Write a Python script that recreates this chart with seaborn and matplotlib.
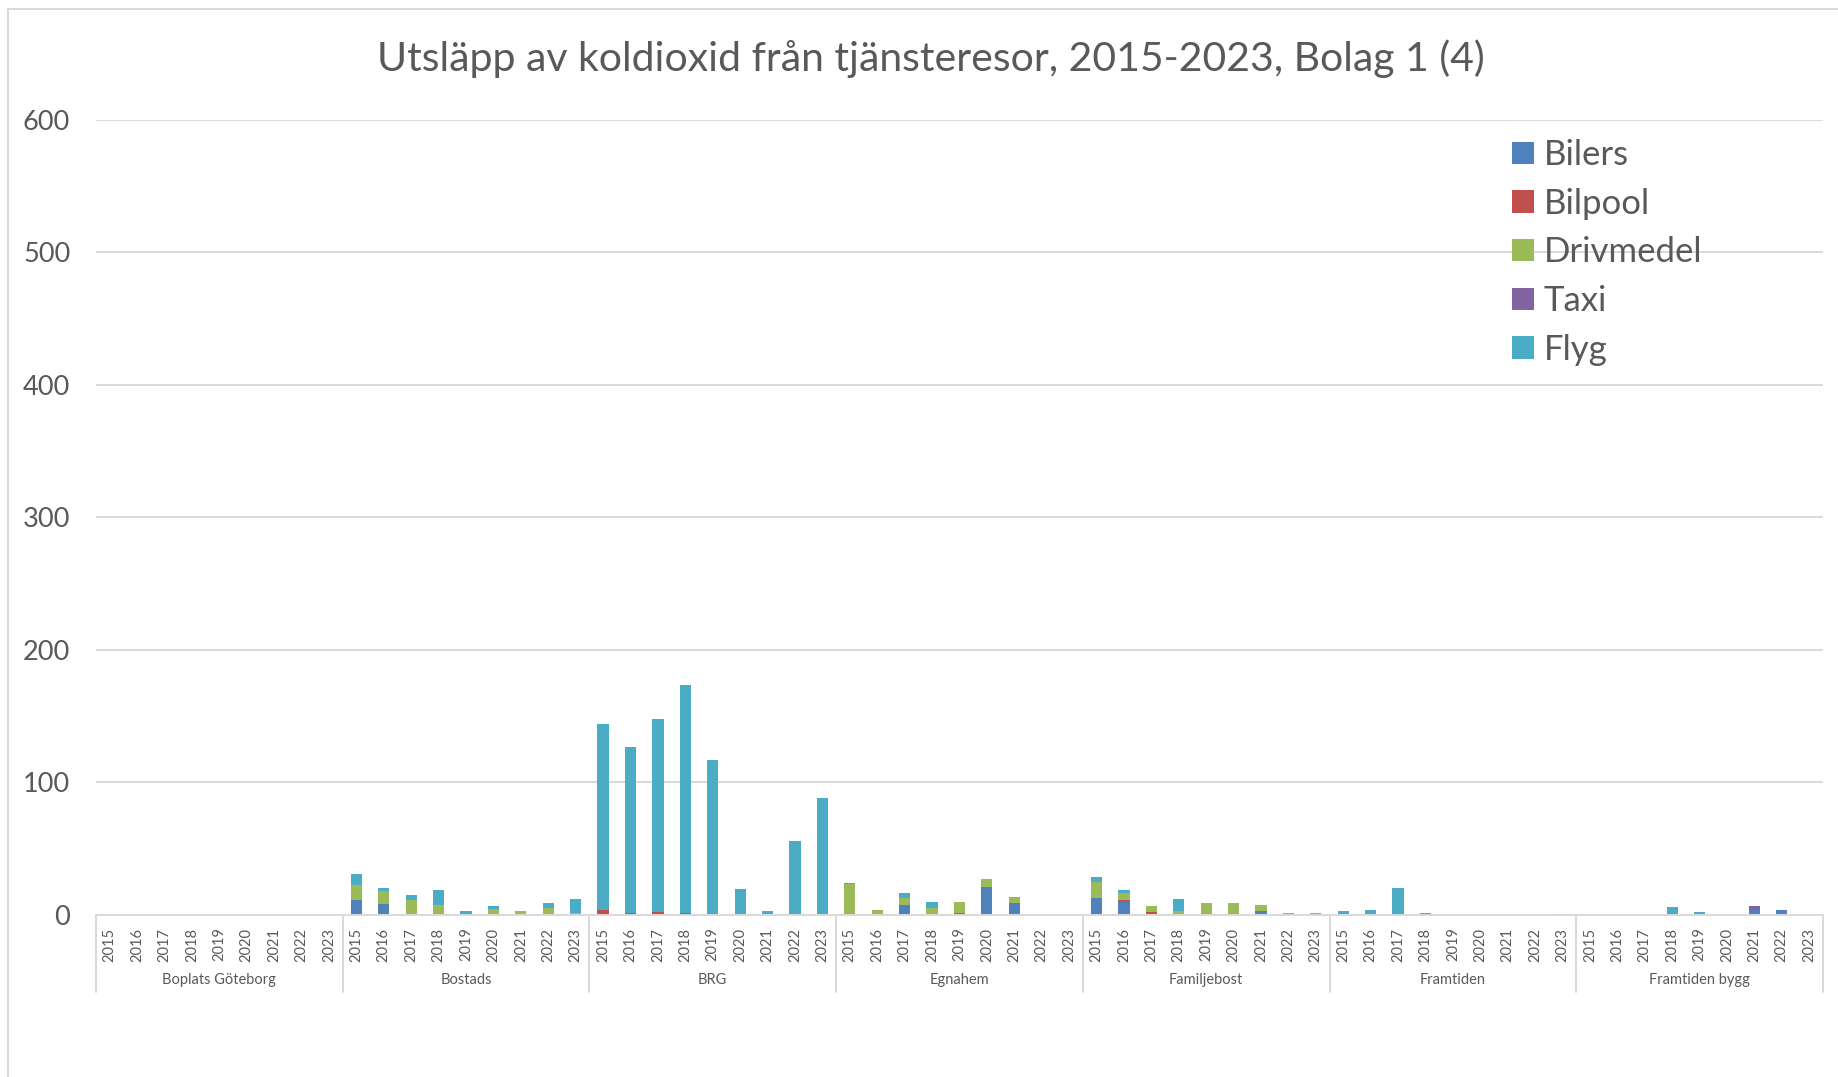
import seaborn as sns
import matplotlib.pyplot as plt
import matplotlib.transforms as mtransforms
from matplotlib.patches import Patch
from matplotlib.lines import Line2D
import pandas as pd

# data (ton CO2)
companies = ["Boplats Göteborg", "Bostads", "BRG", "Egnahem", "Familjebost", "Framtiden", "Framtiden bygg"]
years = [2015, 2016, 2017, 2018, 2019, 2020, 2021, 2022, 2023]
series = ["Bilers", "Bilpool", "Drivmedel", "Taxi", "Flyg"]
colors = ["#4F81BD", "#C0504D", "#9BBB59", "#8064A2", "#4BACC6"]

bilers = [0, 0, 0, 0, 0, 0, 0, 0, 0,
          11, 8.5, 0.5, 0, 0, 0, 0, 0, 0,
          0, 0, 0, 0, 0, 0, 0, 0, 0,
          0, 0, 7.3, 0, 1.3, 20.9, 9, 0, 0,
          12.6, 10, 1, 0.5, 0, 0.5, 3.3, 0, 0.5,
          0, 0, 0, 0, 0, 0, 0, 0, 0,
          0, 0, 0, 0.5, 0, 0, 3.5, 3.8, 0]
bilpool = [0, 0, 0, 0, 0, 0, 0, 0, 0,
           0, 0, 0, 0, 0, 0, 0, 0, 0,
           4, 1.5, 2, 1.5, 1, 0, 0, 0, 0,
           0, 0, 0, 0, 0, 0, 0, 0, 0,
           0, 1, 1, 0, 0, 0, 0, 0, 0,
           0, 0, 0, 0, 0, 0, 0, 0, 0,
           0, 0, 0, 0, 0, 0, 0, 0, 0]
drivmedel = [0, 0, 0, 0, 0, 0, 0, 0, 0,
             11.3, 9.8, 11, 7.5, 1, 4.3, 3.3, 5.3, 1.8,
             0, 0, 0, 0, 0, 0, 0, 0, 0,
             23.4, 3.5, 5.8, 5.5, 8.2, 6.5, 4.6, 0, 0,
             12.3, 5.3, 4.8, 2.5, 9, 8.5, 4.2, 1.8, 1.3,
             1, 0, 0.3, 0, 0, 0, 0, 0, 0,
             0, 0, 0, 0, 0, 0, 0, 0, 0]
taxi = [0, 0, 0, 0, 0, 0, 0, 0, 0,
        0, 0, 0, 0, 0, 0, 0, 0, 0,
        0, 0, 0, 0, 0, 0, 0, 0, 0,
        0, 0, 0, 0, 0, 0, 0, 0, 0,
        0, 0, 0, 0, 0, 0, 0, 0, 0,
        0, 0, 0, 0, 0, 0, 0, 0, 0,
        0, 0, 0, 0, 0, 0, 3, 0, 0]
flyg = [0, 0, 0, 0, 0, 0, 0, 0, 0,
        9, 2.3, 3.8, 11.3, 2, 2.5, 0, 3.7, 10.5,
        140, 125, 146, 172, 116, 19.4, 2.8, 55.7, 88,
        1, 0, 3.5, 4.5, 0, 0, 0, 0, 0,
        4, 2.5, 0, 9, 0, 0, 0, 0, 0,
        2, 3.5, 20.4, 1.8, 0.3, 0, 0, 0, 1,
        0, 0, 0, 5.3, 2.5, 0, 0, 0, 0]

title = "Utsläpp av koldioxid från tjänsteresor, 2015-2023, Bolag 1 (4)"

sns.set_theme(style="white")
plt.rcParams['font.family'] = ['Lato', 'DejaVu Sans']
grey_txt = "#595959"
grid_c = "#d9d9d9"

# long table with cumulative stack heights
df = pd.DataFrame({
    "company": [c for c in companies for _ in years],
    "year": years * len(companies),
    "Bilers": bilers, "Bilpool": bilpool, "Drivmedel": drivmedel,
    "Taxi": taxi, "Flyg": flyg,
})
df["pos"] = range(len(df))
cum = df[series].cumsum(axis=1)

fig = plt.figure(figsize=(18.38, 10.77), dpi=100)
ax = fig.add_axes([0.0522, 0.1504, 0.9918 - 0.0522, 0.889 - 0.1504])

# draw from the top of the stack downwards so lower segments overlay
for s, c in zip(reversed(series), reversed(colors)):
    d = pd.DataFrame({"pos": df["pos"], "h": cum[s]})
    sns.barplot(data=d, x="pos", y="h", color=c, saturation=1, width=0.41,
                errorbar=None, linewidth=0, ax=ax)

ax.set_ylim(0, 600)
ax.set_xlim(-0.5, len(df) - 0.5)
ax.set_yticks(range(0, 601, 100))
ax.set_yticklabels([str(v) for v in range(0, 601, 100)], fontsize=19.5, color=grey_txt)
ax.yaxis.grid(True, color=grid_c, linewidth=1.4)
ax.set_axisbelow(True)
ax.set_xticks(range(len(df)))
ax.set_xticklabels([str(y) for y in df["year"]], rotation=90, fontsize=10.5, color=grey_txt)
ax.tick_params(axis="both", length=0)
ax.tick_params(axis="x", pad=9)
ax.tick_params(axis="y", pad=18.5)
ax.set_xlabel("")
ax.set_ylabel("")
for side in ["top", "right", "left"]:
    ax.spines[side].set_visible(False)
ax.spines["bottom"].set_color(grid_c)
ax.spines["bottom"].set_linewidth(1.4)

# multi-level category axis
trans = mtransforms.blended_transform_factory(ax.transData, ax.transAxes)
for k in range(len(companies) + 1):
    x = -0.5 + k * len(years)
    ax.plot([x, x], [0, -0.097], transform=trans, color=grid_c, lw=1.4, clip_on=False)
for k, name in enumerate(companies):
    ax.text(k * len(years) + (len(years) - 1) / 2, -0.082, name, transform=trans,
            ha="center", va="center", fontsize=10.5, color=grey_txt)

fig.text(0.5065, 0.9456, title, ha="center", va="center", fontsize=29.5, color=grey_txt)

handles = [Patch(facecolor=c, edgecolor="none") for c in colors]
leg = fig.legend(handles, series, loc="upper left", bbox_to_anchor=(1512 / 1838, 1 - 139 / 1077),
                 frameon=False, fontsize=25, handlelength=0.62, handleheight=0.62,
                 handletextpad=0.3, labelspacing=0.48, borderpad=0, borderaxespad=0)
for t in leg.get_texts():
    t.set_color(grey_txt)

# chart-area border (left and top edges visible in the reference)
fig.add_artist(Line2D([8 / 1838, 8 / 1838], [0, 1 - 9 / 1077], color=grid_c, lw=1.4))
fig.add_artist(Line2D([8 / 1838, 1], [1 - 9 / 1077, 1 - 9 / 1077], color=grid_c, lw=1.4))

fig.savefig("out.png", dpi=100)
